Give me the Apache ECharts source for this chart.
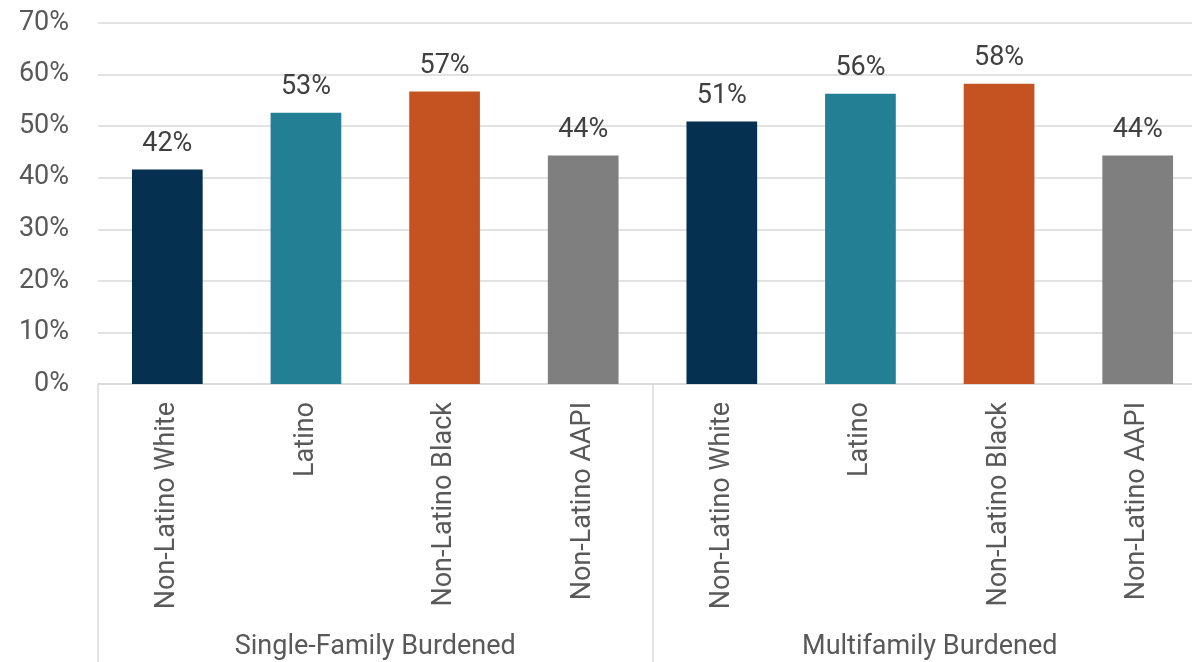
<!DOCTYPE html>
<html>
<head>
<meta charset="utf-8">
<script src="https://cdn.jsdelivr.net/npm/echarts@6/dist/echarts.min.js"></script>
<style>
html,body{margin:0;padding:0;background:#fff;overflow:hidden;width:1192px;height:662px;}
#chart{width:1207px;height:662px;}
</style>
</head>
<body>
<div id="chart"></div>
<script>
const categories = ['Non-Latino White','Latino','Non-Latino Black','Non-Latino AAPI','Non-Latino White','Latino','Non-Latino Black','Non-Latino AAPI'];
const groups = ['Single-Family Burdened','Multifamily Burdened'];
const values = [41.6, 52.6, 56.7, 44.3, 50.9, 56.3, 58.2, 44.3];
const yTicks = [0, 10, 20, 30, 40, 50, 60, 70];
const palette = ['#05304F','#238094','#C55322','#7F7F7F','#05304F','#238094','#C55322','#7F7F7F'];

const FONT = 'Roboto';
const chart = echarts.init(document.getElementById('chart'), null, {renderer:'canvas'});
chart.setOption({
  animation:false,
  backgroundColor:'#fff',
  grid:{left:98, right:0, top:23, bottom:278, containLabel:false},
  xAxis:[
    {
      type:'category',
      data:categories,
      position:'bottom',
      axisLine:{show:true, lineStyle:{color:'#D9D9D9', width:1.5}},
      axisTick:{show:false},
      axisLabel:{rotate:90, margin:18, interval:0, fontFamily:FONT, fontSize:27, color:'#595959'}
    },
    {
      type:'category',
      data:groups,
      position:'bottom',
      offset:0,
      axisLine:{show:false},
      axisTick:{show:true, length:280, interval:0, lineStyle:{color:'#D9D9D9', width:1.5}},
      axisLabel:{margin:250, interval:0, fontFamily:FONT, fontSize:27, color:'#595959'}
    }
  ],
  yAxis:{
    type:'value',
    min:yTicks[0],
    max:yTicks[yTicks.length-1],
    interval:10,
    axisLine:{show:false},
    axisTick:{show:false},
    splitLine:{lineStyle:{color:'#D9D9D9', width:1.5}},
    axisLabel:{formatter:'{value}%', margin:29, fontFamily:FONT, fontSize:27, color:'#595959'}
  },
  series:[{
    type:'bar',
    xAxisIndex:0,
    barWidth:'51%',
    data:values.map((v,i)=>({value:v, itemStyle:{color:palette[i]}})),
    label:{
      show:true,
      position:'top',
      distance:12,
      fontFamily:FONT,
      fontSize:27,
      color:'#404040',
      formatter:p=>Math.round(p.value)+'%'
    }
  }]
});
</script>
</body>
</html>
